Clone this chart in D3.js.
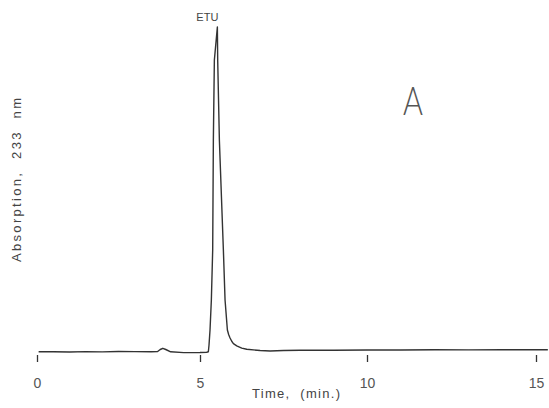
<!DOCTYPE html>
<html>
<head>
<meta charset="utf-8">
<script src="https://cdn.jsdelivr.net/npm/d3@7"></script>
<style>
  body { margin: 0; background: #fff; }
  text { font-family: "Liberation Sans", Arial, sans-serif; fill: #444; }
</style>
</head>
<body>
<div id="chart"></div>
<script>
// chromatogram trace, time in min and absorption in relative units
var times = [0.05, 0.5, 1.0, 1.5, 2.0, 2.5, 3.0, 3.5, 3.7, 3.78, 3.86, 3.95, 4.1, 4.5, 5.0, 5.2, 5.25,
  5.27, 5.30, 5.34, 5.38, 5.40, 5.43, 5.52, 5.53, 5.58, 5.70, 5.75, 5.82, 5.86, 5.9, 5.95, 6.0, 6.1, 6.25, 6.4,
  6.8, 7.1, 7.5, 8, 9, 10, 11, 12, 13, 14, 15, 15.35];
var absorb = [0.09, 0.06, 0.0, 0.12, 0.03, 0.15, 0.12, 0.09, 0.15, 0.77, 1.14, 0.77, 0.06, -0.18, -0.15, -0.06, 0.06,
  2.15, 6.77, 16.0, 31.4, 65.2, 89.8, 100.0, 89.8, 65.2, 31.4, 16.0, 6.77, 5.3, 4.3, 3.3, 2.6, 1.9, 1.2, 0.83,
  0.46, 0.31, 0.46, 0.52, 0.55, 0.62, 0.62, 0.68, 0.65, 0.71, 0.68, 0.68];
var tickValues = [0, 5, 10, 15];
var peakLabel = "ETU";
var peakTime = 5.52;
var panelLabel = "A";
var xTitle = "Time,  (min.)";
var yTitle = "Absorption,  233  nm";

var width = 549, height = 408;

var svg = d3.select("#chart").append("svg").attr("width", width).attr("height", height);

// scanned axis is slightly uneven, so a polylinear scale follows the printed ticks
var x = d3.scaleLinear().domain([0, 5, 10, 15]).range([37, 200, 367, 536]);
var y = d3.scaleLinear().domain([0, 100]).range([352, 27]);

var pts = times.map(function(t, i) { return [t, absorb[i]]; });

var line = d3.line()
    .x(function(d) { return x(d[0]); })
    .y(function(d) { return y(d[1]); });

svg.append("path").datum(pts)
    .attr("d", line)
    .attr("fill", "none")
    .attr("stroke", "#333")
    .attr("stroke-width", 1.4)
    .attr("stroke-linejoin", "round");

// tick marks under the trace, no axis line
var xAxis = d3.axisBottom(x).tickValues(tickValues).tickSize(7).tickPadding(16).tickFormat(d3.format("d"));
var gx = svg.append("g").attr("transform", "translate(0,355)").call(xAxis);
gx.select(".domain").remove();
gx.selectAll(".tick line").attr("stroke", "#333").attr("stroke-width", 1.3);
gx.selectAll(".tick text").style("font-size", "14px").style("fill", "#555")
    .style("font-family", "'Liberation Sans', Arial, sans-serif");

svg.append("text")
    .attr("x", 296).attr("y", 398)
    .attr("text-anchor", "middle")
    .attr("textLength", 88).attr("lengthAdjust", "spacing")
    .style("font-size", "13px").style("white-space", "pre")
    .text(xTitle);

svg.append("text")
    .attr("transform", "translate(21,180) rotate(-90)")
    .attr("text-anchor", "middle")
    .attr("textLength", 164).attr("lengthAdjust", "spacing")
    .style("font-size", "13px").style("white-space", "pre")
    .text(yTitle);

svg.append("text")
    .attr("x", x(peakTime) - 10).attr("y", 20.5)
    .attr("text-anchor", "middle")
    .style("font-size", "11px")
    .text(peakLabel);

svg.append("text")
    .attr("transform", "translate(413,115) scale(0.78,1)")
    .attr("text-anchor", "middle")
    .style("font-size", "39px").style("font-weight", "300").style("fill", "#555")
    .style("font-family", "Lato, 'Open Sans', sans-serif")
    .text(panelLabel);
</script>
</body>
</html>
